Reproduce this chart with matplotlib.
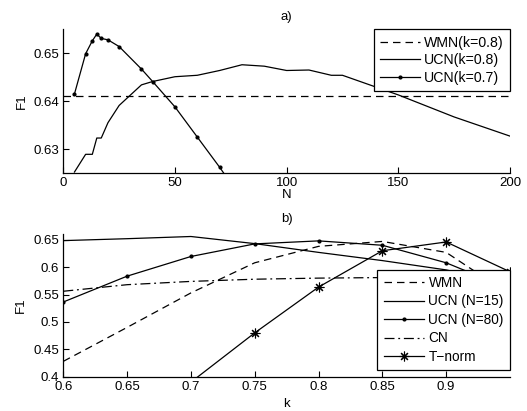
import matplotlib
matplotlib.use("Agg")
import matplotlib.pyplot as plt

plt.rcParams['font.family'] = ['Liberation Sans', 'DejaVu Sans']
plt.rcParams['font.size'] = 9.5

# ---- panel a) data ----
N_ucn07 = [5, 10, 13, 15, 17, 20, 25, 35, 40, 50, 60, 70, 80]
F_ucn07 = [0.6415, 0.6499, 0.6526, 0.6540, 0.6531, 0.6528, 0.6514, 0.6467, 0.6441,
           0.6388, 0.6325, 0.6262, 0.6195]
N_ucn08 = [5, 10, 13, 15, 17, 20, 25, 35, 40, 50, 60, 70, 80, 90, 100, 110, 120, 125,
           150, 175, 200]
F_ucn08 = [0.6252, 0.6289, 0.6289, 0.6323, 0.6323, 0.6355, 0.6391, 0.6434, 0.6441,
           0.6451, 0.6454, 0.6464, 0.6476, 0.6473, 0.6464, 0.6465, 0.6454, 0.6454,
           0.6413, 0.6367, 0.6327]
wmn_a = 0.641
N_range = [0, 200]

# ---- panel b) data ----
k = [0.6, 0.65, 0.7, 0.75, 0.8, 0.85, 0.9, 0.95]
F_wmn = [0.428, 0.490, 0.553, 0.608, 0.638, 0.647, 0.627, 0.550]
F_ucn15 = [0.6485, 0.652, 0.656, 0.643, 0.627, 0.612, 0.595, 0.570]
F_ucn80 = [0.5364, 0.5836, 0.6195, 0.6425, 0.648, 0.640, 0.608, 0.560]
F_cn = [0.556, 0.568, 0.574, 0.578, 0.580, 0.581, 0.582, 0.560]
F_tnorm = [0.20, 0.30, 0.39, 0.480, 0.5636, 0.630, 0.646, 0.5916]

fig = plt.figure(figsize=(5.27, 4.11), dpi=100)
ax1 = fig.add_axes([0.1201, 0.5791, 0.8476, 0.3496])
ax2 = fig.add_axes([0.1201, 0.0835, 0.8476, 0.3464])

lw = 0.9
ax1.plot(N_range, [wmn_a, wmn_a], color='k', ls=(0, (6, 4)), lw=lw, label='WMN(k=0.8)')
ax1.plot(N_ucn08, F_ucn08, color='k', lw=lw, label='UCN(k=0.8)')
ax1.plot(N_ucn07, F_ucn07, color='k', lw=lw, marker='.', ms=4, label='UCN(k=0.7)')
ax1.set_xlim(0, 200)
ax1.set_ylim(0.625, 0.655)
ax1.set_xticks([0, 50, 100, 150, 200])
ax1.set_yticks([0.63, 0.64, 0.65])
ax1.set_yticklabels(['0.63', '0.64', '0.65'])
ax1.set_xlabel('N', labelpad=0)
ax1.set_ylabel('F1', labelpad=4)
ax1.set_title('a)', pad=7, fontsize=9.5)
leg1 = ax1.legend(loc='upper right', bbox_to_anchor=(1.0, 1.0), borderaxespad=0,
                  fancybox=False, framealpha=1, edgecolor='k', fontsize=10.2,
                  handlelength=2.85, handletextpad=0.25, labelspacing=0.26,
                  borderpad=0.45)
leg1.get_frame().set_linewidth(0.9)

ax2.plot(k, F_wmn, color='k', ls=(0, (6, 4)), lw=lw, label='WMN')
ax2.plot(k, F_ucn15, color='k', lw=lw, label='UCN (N=15)')
ax2.plot(k, F_ucn80, color='k', lw=lw, marker='.', ms=4, label='UCN (N=80)')
ax2.plot(k, F_cn, color='k', ls=(0, (8, 3, 1.5, 3)), lw=lw, label='CN')
ax2.plot(k, F_tnorm, color='k', lw=lw, marker=(8, 2, 0), ms=7, mew=0.8,
         label='T\u2212norm')
ax2.set_xlim(0.6, 0.95)
ax2.set_ylim(0.4, 0.66)
ax2.set_xticks([0.6, 0.65, 0.7, 0.75, 0.8, 0.85, 0.9])
ax2.set_xticklabels(['0.6', '0.65', '0.7', '0.75', '0.8', '0.85', '0.9'])
ax2.set_yticks([0.4, 0.45, 0.5, 0.55, 0.6, 0.65])
ax2.set_yticklabels(['0.4', '0.45', '0.5', '0.55', '0.6', '0.65'])
ax2.set_xlabel('k', labelpad=4)
ax2.set_ylabel('F1', labelpad=5)
ax2.set_title('b)', pad=9, fontsize=9.5)
leg2 = ax2.legend(loc='lower right', bbox_to_anchor=(1.0, 0.047), borderaxespad=0,
                  fancybox=False, framealpha=1, edgecolor='k', fontsize=9.8,
                  handlelength=2.95, handletextpad=0.35, labelspacing=0.33,
                  borderpad=0.45)
leg2.get_frame().set_linewidth(0.9)

for ax in (ax1, ax2):
    ax.spines['top'].set_visible(False)
    ax.spines['right'].set_visible(False)
    ax.spines['left'].set_linewidth(0.9)
    ax.spines['bottom'].set_linewidth(0.9)
    ax.tick_params(direction='in', length=4, width=0.8, pad=3)

fig.savefig('out.png', dpi=100)
